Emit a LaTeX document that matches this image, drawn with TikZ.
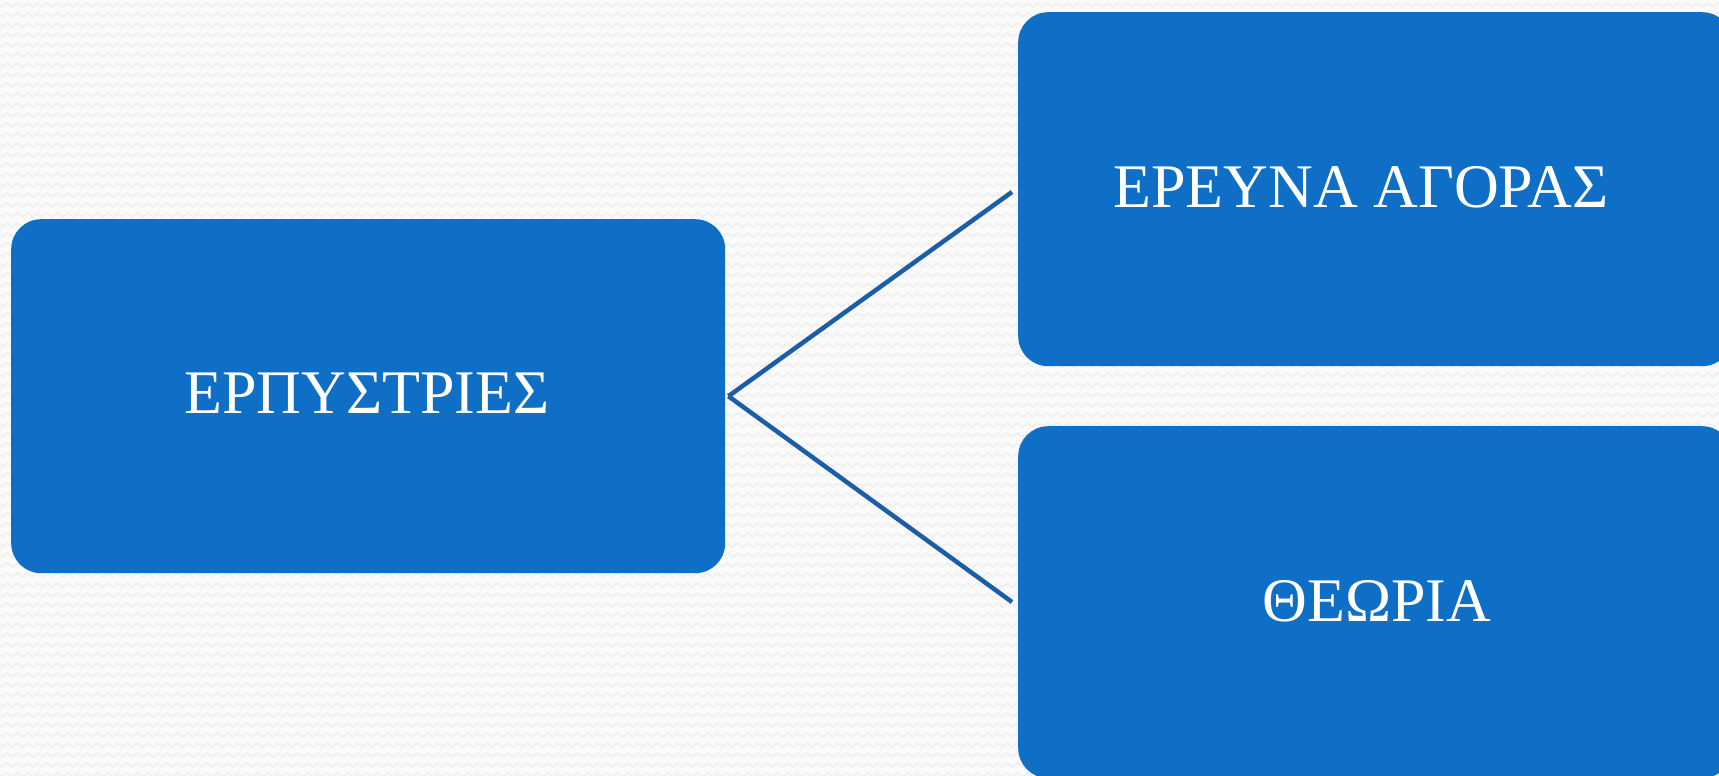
\documentclass[tikz,border=0pt]{standalone}
\usepackage{fontspec}
\setmainfont{Liberation Serif}
\usetikzlibrary{decorations.pathmorphing}
\definecolor{boxblue}{HTML}{0F6FC6}
\definecolor{lineblue}{HTML}{1B5DA6}
\definecolor{bg}{HTML}{FAFAFA}
\definecolor{zig}{HTML}{EEEEEE}
\begin{document}
\begin{tikzpicture}[x=1pt,y=-1pt,
  box/.style={draw=none,fill=boxblue,rounded corners=30pt,minimum width=714pt,minimum height=354pt,anchor=north west,inner sep=0pt},
  lbl/.style={text=white,font=\fontsize{62}{70}\selectfont,anchor=base,inner sep=0pt},
  conn/.style={draw=lineblue,line width=4.5pt},
  zz/.style={draw=zig,line width=1.5pt,decorate,decoration={zigzag,segment length=10pt,amplitude=2pt}}]
\useasboundingbox (0,0) rectangle (1719,776);
\fill[bg] (0,0) rectangle (1719,776);
\clip (0,0) rectangle (1719,776);
\foreach \yy in {5,15,...,775} {\draw[zz] (-5,\yy) -- (1725,\yy);}
\node[box] (left) at (11,219) {};
\node[box] (tr) at (1018,12) {};
\node[box,minimum height=352pt] (br) at (1018,426) {};
\node[lbl] (t1) at (367,413) {ΕΡΠΥΣΤΡΙΕΣ};
\node[lbl] (t2) at (1361,207) {ΕΡΕΥΝΑ ΑΓΟΡΑΣ};
\node[lbl] (t3) at (1377,621) {ΘΕΩΡΙΑ};
\coordinate (c1) at (1012,192);
\coordinate (c2) at (1012,602);
\draw[conn] ([xshift=3pt]left.east) -- (c1);
\draw[conn] ([xshift=3pt]left.east) -- (c2);
\end{tikzpicture}
\end{document}
